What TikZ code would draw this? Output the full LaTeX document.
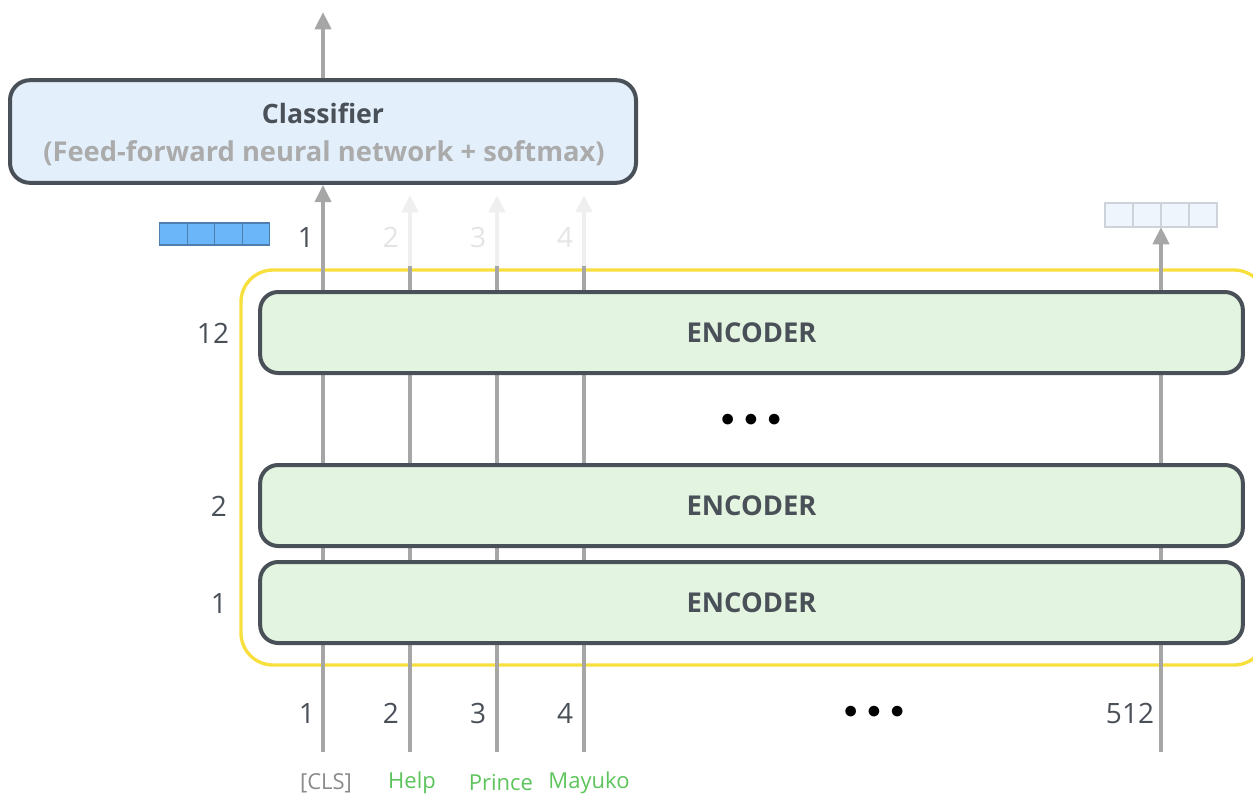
\documentclass[tikz,border=0pt]{standalone}
\usepackage{fontspec}
\setmainfont{Open Sans}
\usetikzlibrary{arrows.meta,backgrounds}
\definecolor{ink}{HTML}{4A5058}
\definecolor{wire}{HTML}{A6A6A6}
\definecolor{subtext}{HTML}{ABABAB}
\definecolor{ghost}{HTML}{EFEFEF}
\definecolor{ghosttext}{HTML}{E4E4E4}
\definecolor{clsfill}{HTML}{E3F0FC}
\definecolor{encfill}{HTML}{E3F5E1}
\definecolor{frame}{HTML}{F7DF3E}
\definecolor{tokgreen}{HTML}{5CC45A}
\definecolor{tokgray}{HTML}{8A8A8A}
\definecolor{vecblue}{HTML}{6AB6F8}
\definecolor{vecedge}{HTML}{4C7EAE}
\definecolor{vecpale}{HTML}{EEF5FD}
\definecolor{vecpaleedge}{HTML}{CDD3D9}
\newcommand{\threedots}{$\mathord\bullet\kern7pt\mathord\bullet\kern7pt\mathord\bullet$}
\tikzset{
  encbox/.style={draw=ink, line width=3pt, fill=encfill, rounded corners=13.5pt,
    minimum width=737pt, minimum height=60.75pt, inner sep=0pt,
    font=\fontsize{20.5}{24}\selectfont\bfseries, text=ink},
  wireline/.style={draw=wire, line width=3pt},
  wirearrow/.style={wireline, -{Triangle[width=12pt,length=13pt]}},
  ghostarrow/.style={draw=ghost, line width=3pt, -{Triangle[width=12pt,length=13pt]}},
  numlabel/.style={font=\fontsize{21}{24}\selectfont, text=ink, inner sep=0pt},
  ghostlabel/.style={numlabel, text=ghosttext},
  toklabel/.style={font=\fontsize{16.5}{20}\selectfont, inner sep=0pt},
  cellblue/.style={draw=vecedge, line width=0.8pt, fill=vecblue, minimum width=20.6pt, minimum height=16.5pt, inner sep=0pt},
  cellpale/.style={draw=vecpaleedge, line width=0.8pt, fill=vecpale, minimum width=21pt, minimum height=18pt, inner sep=0pt},
  dots/.style={font=\fontsize{22}{24}\selectfont, inner sep=0pt}
}
\begin{document}
\begin{tikzpicture}[x=0.75pt,y=-0.75pt]
\useasboundingbox (0,0) rectangle (1253,797);
\clip (0,0) rectangle (1253,797);

% classifier head
\node[draw=ink, line width=3pt, fill=clsfill, rounded corners=15pt,
  minimum width=469.5pt, minimum height=77pt, inner sep=0pt] (cls) at (323,131.5) {};
\node[font=\fontsize{20}{24}\selectfont\bfseries, text=ink] (clstitle) at (323,113) {Classifier};
\node[font=\fontsize{20.5}{24}\selectfont\bfseries, text=subtext] (clssub) at (324,153) {(Feed-forward neural network + softmax)};
\coordinate (out) at (323,12);

% encoder stack
\node[encbox] (enc12) at (751.5,332.5) {ENCODER};
\node[encbox] (enc2) at (751.5,505.5) {ENCODER};
\node[encbox] (enc1) at (751.5,602.5) {ENCODER};
\node[dots] (middots) at (751,420) {\threedots};

% layer numbers
\node[numlabel] (l12) at (213,333) {12};
\node[numlabel] (l2) at (219,506) {2};
\node[numlabel] (l1) at (219,603) {1};

% output vectors
\foreach \i in {0,...,3}
  \node[cellblue] (vb\i) at ({173.5+27.5*\i},234) {};
\foreach \i in {0,...,3}
  \node[cellpale] (vp\i) at ({1119+28*\i},215) {};
\coordinate (vpin) at (1161,227);

% output position labels
\node[numlabel] (o1) at (306,237) {1};
\node[ghostlabel] (o2) at (391,237) {2};
\node[ghostlabel] (o3) at (478,237) {3};
\node[ghostlabel] (o4) at (565,237) {4};

% input position labels
\node[numlabel] (i1) at (307,713) {1};
\node[numlabel] (i2) at (391,713) {2};
\node[numlabel] (i3) at (478,713) {3};
\node[numlabel] (i4) at (565,713) {4};
\node[dots] (botdots) at (874,712) {\threedots};
\node[numlabel] (i512) at (1130,713) {512};

% tokens
\node[toklabel, text=tokgray] (t1) at (326,783) {[CLS]};
\node[toklabel, text=tokgreen] (t2) at (412,783) {Help};
\node[toklabel, text=tokgreen] (t3) at (501,783) {Prince};
\node[toklabel, text=tokgreen] (t4) at (589,783) {Mayuko};

% column end points
\coordinate (b1) at (323,752);
\coordinate (b2) at (410,752);
\coordinate (b3) at (497,752);
\coordinate (b4) at (584,752);
\coordinate (b512) at (1161,752);
\coordinate (m2) at (410,266);
\coordinate (m3) at (497,266);
\coordinate (m4) at (584,266);
\coordinate (g2) at (410,195);
\coordinate (g3) at (497,195);
\coordinate (g4) at (584,195);

\draw[wirearrow] (cls.north) -- (out);

\begin{scope}[on background layer]
  \draw[frame, line width=2.5pt, rounded corners=24pt] (241,270) rectangle (1266,665);
  \draw[wirearrow] (b1) -- (cls.south);
  \draw[ghostarrow] (m2) -- (g2);
  \draw[ghostarrow] (m3) -- (g3);
  \draw[ghostarrow] (m4) -- (g4);
  \draw[wireline] (b2) -- (m2);
  \draw[wireline] (b3) -- (m3);
  \draw[wireline] (b4) -- (m4);
  \draw[wirearrow] (b512) -- (vpin);
\end{scope}
\end{tikzpicture}
\end{document}
